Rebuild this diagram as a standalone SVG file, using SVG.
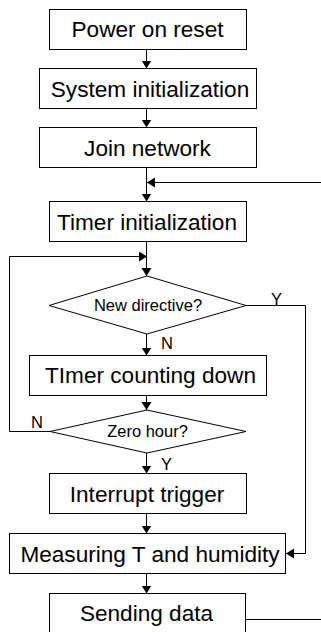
<svg xmlns="http://www.w3.org/2000/svg" width="321" height="632" viewBox="0 0 321 632">
  <style>
    .box { fill: #ffffff; stroke: #000000; stroke-width: 1; }
    .dec { fill: #ffffff; stroke: #000000; stroke-width: 1; }
    .lbl { font-family: "Liberation Sans", Arial, sans-serif; font-size: 22.6px; fill: #000000; text-anchor: middle; }
    .sm { font-family: "Liberation Sans", Arial, sans-serif; font-size: 16.5px; fill: #000000; text-anchor: middle; }
    .tag { font-family: "Liberation Sans", Arial, sans-serif; font-size: 16.5px; fill: #000000; }
    .wire { fill: none; stroke: #000000; stroke-width: 1; }
    .arr { marker-end: url(#head); }
  </style>
  <defs>
    <marker id="head" markerUnits="userSpaceOnUse" markerWidth="9" markerHeight="11" refX="8" refY="5" orient="auto">
      <path d="M0,0 L8,5 L0,10 z" fill="#000000"/>
    </marker>
  </defs>

  <rect width="321" height="632" fill="#ffffff"/>

  <!-- connectors -->
  <g id="connectors">
    <line class="wire arr" x1="146.5" y1="49.5" x2="146.5" y2="68.5"/>
    <line class="wire arr" x1="146.5" y1="108.5" x2="146.5" y2="127.5"/>
    <line class="wire arr" x1="146.5" y1="167.5" x2="146.5" y2="201.5"/>
    <line class="wire arr" x1="321" y1="182.5" x2="147" y2="182.5"/>
    <line class="wire arr" x1="146.5" y1="241.5" x2="146.5" y2="276"/>
    <polyline class="wire arr" points="50,431.5 9.5,431.5 9.5,256.5 147,256.5"/>
    <line class="wire arr" x1="146.5" y1="334" x2="146.5" y2="355.5"/>
    <line class="wire arr" x1="146.5" y1="395.5" x2="146.5" y2="410"/>
    <line class="wire arr" x1="146.5" y1="453" x2="146.5" y2="473.5"/>
    <line class="wire arr" x1="146.5" y1="513.5" x2="146.5" y2="533.5"/>
    <line class="wire arr" x1="146.5" y1="573.5" x2="146.5" y2="593.5"/>
    <polyline class="wire arr" points="246,305.5 305.5,305.5 305.5,553.5 286,553.5"/>
    <line class="wire" x1="245.5" y1="619.5" x2="321" y2="619.5"/>
    <text class="tag" x="271" y="305">Y</text>
    <text class="tag" x="161" y="349">N</text>
    <text class="tag" x="31" y="428">N</text>
    <text class="tag" x="161" y="470">Y</text>
  </g>

  <g id="power-on-reset">
    <rect class="box" x="49.5" y="9.5" width="197" height="40"/>
    <text class="lbl" x="147.5" y="36.5">Power on reset</text>
  </g>
  <g id="system-init">
    <rect class="box" x="39.5" y="68.5" width="217" height="40"/>
    <text class="lbl" x="150" y="96.5">System initialization</text>
  </g>
  <g id="join-network">
    <rect class="box" x="39.5" y="127.5" width="217" height="40"/>
    <text class="lbl" x="147.5" y="155.5">Join network</text>
  </g>
  <g id="timer-init">
    <rect class="box" x="49.5" y="201.5" width="197" height="40"/>
    <text class="lbl" x="147" y="229.5">Timer initialization</text>
  </g>
  <g id="new-directive">
    <polygon class="dec" points="147,276 246,305.5 147,334 49,305.5"/>
    <text class="sm" x="148" y="311">New directive?</text>
  </g>
  <g id="timer-countdown">
    <rect class="box" x="29.5" y="355.5" width="237" height="40"/>
    <text class="lbl" x="150.5" y="383">TImer counting down</text>
  </g>
  <g id="zero-hour">
    <polygon class="dec" points="147,410 246,431.5 147,453 50,431.5"/>
    <text class="sm" x="147.5" y="437">Zero hour?</text>
  </g>
  <g id="interrupt-trigger">
    <rect class="box" x="49.5" y="473.5" width="197" height="40"/>
    <text class="lbl" x="147" y="501.5">Interrupt trigger</text>
  </g>
  <g id="measuring">
    <rect class="box" x="9.5" y="533.5" width="276" height="40"/>
    <text class="lbl" x="150" y="561.5">Measuring T and humidity</text>
  </g>
  <g id="sending-data">
    <rect class="box" x="49.5" y="593.5" width="196" height="50"/>
    <text class="lbl" x="146.5" y="621">Sending data</text>
  </g>
</svg>
